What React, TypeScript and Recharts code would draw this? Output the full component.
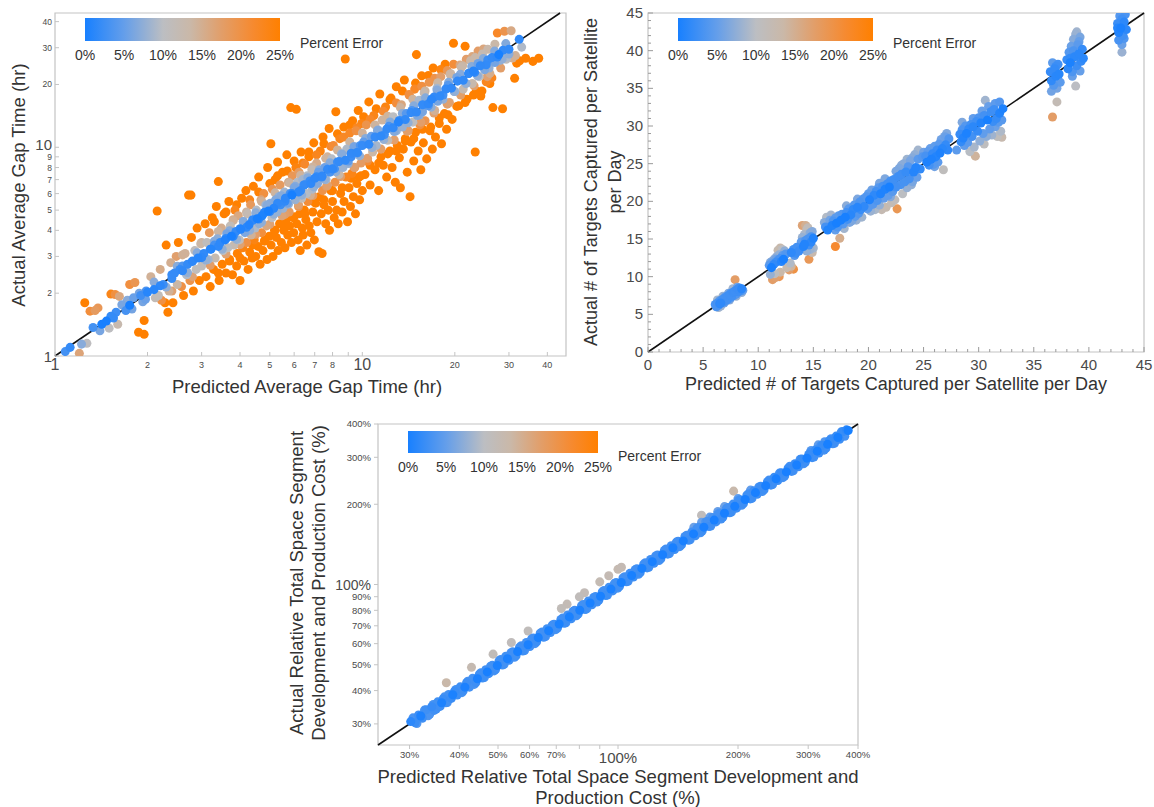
import React from "react";
import {
  ScatterChart,
  Scatter,
  XAxis,
  YAxis,
  ZAxis,
  Cell,
  ReferenceLine,
  ReferenceArea,
} from "recharts";

type Pt = [number, number];

// ---- Panel A: average gap time (hr), [predicted, actual] ----
const gapCore: Pt[] = [
  [2.0, 2.02], [2.2, 2.17], [2.4, 2.45], [2.6, 2.56], [2.8, 2.84], [3.0, 2.96], [3.2, 3.25], [3.4, 3.35],
  [3.6, 3.66], [3.8, 3.75], [4.0, 4.07], [4.2, 4.14], [4.4, 4.47], [4.6, 4.53], [4.8, 4.88], [5.0, 4.92],
  [5.3, 5.39], [5.6, 5.51], [5.9, 6.0], [6.2, 6.11], [6.5, 6.62], [6.8, 6.7], [7.1, 7.23], [7.4, 7.29],
  [7.7, 7.84], [8.0, 7.88], [8.4, 8.55], [8.8, 8.66], [9.2, 9.36], [9.6, 9.45], [10.0, 10.2], [10.5, 10.33],
  [11.0, 11.2], [11.5, 11.32], [12.0, 12.22], [12.6, 12.4], [13.2, 13.45], [13.8, 13.58], [14.4, 14.66],
  [15.0, 14.76], [15.7, 15.98], [16.4, 16.15], [17.1, 17.4], [17.9, 17.62], [18.7, 19.03], [19.5, 19.2],
  [20.4, 20.75], [21.3, 20.96], [22.2, 22.56], [23.2, 22.85], [24.2, 24.6], [25.3, 24.86], [26.4, 26.9],
  [27.5, 27.05], [28.7, 29.2], [30.0, 29.5],
  [2.1, 2.26], [2.3, 2.14], [2.5, 2.69], [2.7, 2.51], [2.9, 3.12], [3.1, 2.88], [3.3, 3.55], [3.5, 3.25],
  [3.7, 3.98], [3.9, 3.62], [4.1, 4.41], [4.3, 4.0], [4.5, 4.85], [4.7, 4.37], [4.9, 5.27], [5.15, 4.78],
  [5.45, 5.86], [5.75, 5.34], [6.05, 6.5], [6.35, 5.9], [6.65, 7.15], [6.95, 6.46], [7.25, 7.8], [7.55, 7.01],
  [7.85, 8.44], [8.2, 7.62], [8.6, 9.25], [9.0, 8.36], [9.4, 10.1], [9.8, 9.1], [10.25, 11.02], [10.75, 9.98],
  [11.25, 12.1], [11.75, 10.9], [12.3, 13.22], [12.9, 11.98], [13.5, 14.52], [14.1, 13.1], [14.7, 15.8],
  [15.35, 14.27], [16.05, 17.25], [16.75, 15.57], [17.5, 18.8], [18.3, 17.0], [19.1, 20.5], [19.9, 18.5],
  [20.85, 22.4], [21.75, 20.2], [22.7, 24.4], [23.7, 22.0], [24.75, 26.6], [25.85, 24.0], [26.95, 28.9],
  [28.1, 26.1], [29.3, 31.4],
];

const gapBands: Pt[] = [
  // upper, strongly over
  [3.3, 4.4], [3.6, 4.9], [3.9, 5.3], [4.3, 5.6], [4.6, 6.1], [5.0, 6.7], [5.3, 7.3], [5.7, 7.7], [6.0, 8.6],
  [6.4, 8.4], [6.7, 9.5], [7.1, 9.2], [7.5, 10.4], [7.9, 10.1], [8.3, 11.6], [8.7, 11.2], [9.1, 12.8], [9.6, 12.4],
  [10.1, 14.0], [10.6, 13.6], [11.1, 15.3], [11.7, 14.9], [12.3, 16.9], [12.9, 16.3], [13.5, 18.6], [14.2, 17.9],
  [14.9, 20.3], [15.6, 19.6], [16.4, 22.1], [17.2, 21.4], [18.0, 23.6], [18.9, 23.3], [19.8, 25.0], [20.8, 24.8],
  [21.8, 26.4], [22.8, 27.2], [23.8, 28.9], [24.8, 29.6],
  // upper, mildly over
  [2.6, 3.05], [3.0, 3.5], [3.4, 3.95], [3.8, 4.45], [4.2, 4.9], [4.7, 5.5], [5.2, 6.05], [5.8, 6.75], [6.3, 7.35],
  [6.9, 8.05], [7.6, 8.85], [8.3, 9.7], [9.1, 10.6], [10.0, 11.7], [11.0, 12.8], [12.1, 14.1], [13.3, 15.5],
  [14.6, 17.0], [16.0, 18.6], [17.6, 20.4], [19.3, 22.4], [21.2, 24.6], [23.3, 26.9], [25.6, 29.5], [27.0, 31.2],
  // lower, strongly under
  [3.4, 2.5], [3.7, 2.85], [4.0, 2.95], [4.4, 3.4], [4.8, 3.55], [5.2, 4.0], [5.6, 4.15], [6.0, 4.65], [6.5, 4.8],
  [7.0, 5.45], [7.5, 5.6], [8.0, 6.2], [8.6, 6.4], [9.2, 7.1], [9.9, 7.3], [10.6, 8.2], [11.3, 8.4], [12.1, 9.3],
  [12.9, 9.6], [13.8, 10.7], [14.7, 11.0], [15.7, 12.2], [16.7, 12.5], [17.8, 13.8], [19.0, 14.3], [20.3, 15.7],
  [21.6, 16.4], [23.0, 17.8], [24.5, 18.6], [26.0, 20.2],
  // lower, mildly under
  [2.4, 2.05], [2.8, 2.4], [3.2, 2.72], [3.6, 3.08], [4.0, 3.42], [4.5, 3.83], [5.0, 4.28], [5.6, 4.77], [6.2, 5.3],
  [6.9, 5.87], [7.7, 6.57], [8.5, 7.24], [9.4, 8.02], [10.4, 8.86], [11.5, 9.8], [12.7, 10.83], [14.0, 11.93],
  [15.5, 13.2], [17.1, 14.6], [18.9, 16.1], [20.9, 17.8], [23.1, 19.7], [25.5, 21.8],
];

const gapSpread: Pt[] = [
  [1.08, 1.05], [1.12, 1.1], [1.2, 1.03], [1.22, 1.14], [1.27, 1.15], [1.25, 1.8], [1.3, 1.64], [1.35, 1.65],
  [1.38, 1.7], [1.33, 1.37], [1.4, 1.32], [1.42, 1.42], [1.47, 1.47], [1.5, 1.36], [1.52, 1.55], [1.55, 1.52],
  [1.58, 1.62], [1.52, 1.98], [1.57, 1.97], [1.62, 1.93], [1.65, 1.76], [1.6, 1.42], [1.7, 1.65], [1.72, 1.85],
  [1.75, 1.75], [1.78, 1.68], [1.8, 1.9], [1.75, 2.2], [1.82, 2.25], [1.87, 1.3], [1.95, 1.27], [1.95, 1.48],
  [1.9, 1.95], [1.93, 1.82], [1.98, 2.05], [1.97, 1.87], [1.88, 2.0],
  [2.05, 2.4], [2.1, 2.08], [2.12, 1.9], [2.15, 4.95], [2.17, 1.95], [2.2, 2.6], [2.22, 1.85], [2.25, 2.2],
  [2.28, 1.8], [2.3, 3.4], [2.33, 1.62], [2.35, 2.05], [2.38, 2.8], [2.4, 2.35], [2.42, 1.8], [2.45, 2.5],
  [2.48, 3.0], [2.5, 2.2], [2.52, 3.5], [2.55, 2.6], [2.58, 2.15], [2.6, 2.7], [2.62, 1.95], [2.65, 3.1],
  [2.68, 2.45], [2.7, 2.75], [2.72, 5.9], [2.77, 5.9], [2.75, 2.3], [2.78, 3.7], [2.8, 2.85], [2.82, 2.05],
  [2.85, 3.2], [2.88, 2.6], [2.9, 4.1], [2.92, 2.95], [2.95, 2.3], [2.98, 3.45], [3.0, 2.7],
  [3.05, 3.1], [3.08, 4.3], [3.1, 2.4], [3.12, 3.5], [3.15, 2.9], [3.18, 3.9], [3.2, 2.15], [3.22, 3.25],
  [3.25, 4.6], [3.28, 2.6], [3.3, 3.4], [3.32, 2.95], [3.35, 5.2], [3.38, 3.65], [3.4, 6.85], [3.42, 2.3],
  [3.45, 3.5], [3.48, 4.1], [3.5, 2.75], [3.52, 3.2], [3.55, 4.8], [3.58, 3.6], [3.6, 2.5], [3.62, 3.85],
  [3.65, 3.3], [3.68, 5.5], [3.7, 2.9], [3.72, 4.2], [3.75, 3.75], [3.78, 2.45], [3.8, 4.5], [3.82, 3.4],
  [3.85, 5.0], [3.88, 3.95], [3.9, 2.7], [3.92, 3.1], [3.95, 4.7], [3.98, 3.6], [4.0, 2.3], [4.02, 4.05],
  [4.05, 5.7], [4.08, 3.3], [4.1, 4.4], [4.12, 2.85], [4.15, 3.9], [4.18, 6.2], [4.2, 3.5], [4.22, 4.8],
  [4.25, 2.6], [4.28, 4.25], [4.3, 3.15], [4.33, 5.3], [4.35, 3.8], [4.38, 2.95], [4.4, 4.5], [4.42, 6.5],
  [4.45, 3.6], [4.48, 4.1], [4.5, 3.0], [4.52, 5.0], [4.55, 4.55], [4.58, 3.35], [4.6, 7.2], [4.62, 4.3],
  [4.65, 2.75], [4.68, 5.6], [4.7, 3.9], [4.72, 4.7], [4.75, 3.2], [4.78, 6.0], [4.8, 4.85], [4.82, 3.6],
  [4.85, 5.3], [4.88, 4.2], [4.9, 2.9], [4.92, 8.0], [4.95, 4.95], [4.98, 3.75],
  [5.02, 5.4], [5.04, 10.4], [5.05, 3.4], [5.08, 4.6], [5.1, 6.3], [5.12, 3.0], [5.15, 5.1], [5.18, 4.0],
  [5.2, 7.0], [5.22, 5.6], [5.25, 3.7], [5.28, 4.9], [5.3, 8.5], [5.32, 3.2], [5.35, 5.8], [5.38, 4.3],
  [5.4, 6.6], [5.42, 5.3], [5.45, 3.5], [5.48, 4.7], [5.5, 7.6], [5.52, 5.1], [5.55, 4.0], [5.58, 6.1],
  [5.6, 3.3], [5.62, 5.7], [5.65, 4.5], [5.68, 9.2], [5.7, 5.4], [5.72, 3.8], [5.75, 6.8], [5.78, 4.9],
  [5.8, 4.2], [5.82, 6.0], [5.85, 15.5], [5.88, 3.5], [5.9, 5.9], [5.92, 7.3], [5.95, 4.6], [5.98, 3.9],
  [6.0, 6.4], [6.05, 5.6], [6.08, 8.0], [6.1, 15.2], [6.12, 4.3], [6.15, 6.8], [6.18, 3.6], [6.2, 5.2],
  [6.22, 7.6], [6.25, 4.8], [6.28, 3.2], [6.3, 6.2], [6.32, 9.5], [6.35, 5.7], [6.38, 4.1], [6.4, 7.0],
  [6.42, 3.8], [6.45, 6.6], [6.48, 5.0], [6.5, 8.3], [6.55, 4.5], [6.58, 6.0], [6.6, 3.4], [6.62, 7.3],
  [6.65, 5.5], [6.7, 9.0], [6.72, 4.2], [6.75, 6.9], [6.78, 5.9], [6.8, 3.9], [6.85, 7.8], [6.88, 6.3],
  [6.9, 4.9], [6.95, 10.5], [6.98, 3.6], [7.0, 7.1], [7.05, 5.4], [7.1, 8.4], [7.12, 4.4], [7.15, 6.7],
  [7.2, 7.6], [7.22, 3.16], [7.25, 5.8], [7.3, 9.6], [7.35, 4.8], [7.38, 7.2], [7.4, 3.1], [7.42, 6.2],
  [7.45, 11.2], [7.5, 5.3], [7.55, 8.0], [7.6, 4.3], [7.62, 7.0], [7.65, 6.5], [7.7, 9.0], [7.75, 5.0],
  [7.8, 12.3], [7.82, 4.0], [7.85, 7.6], [7.9, 6.2], [7.95, 8.8], [8.0, 5.5], [8.05, 10.2], [8.1, 4.6],
  [8.12, 7.9], [8.15, 6.8], [8.2, 14.8], [8.25, 5.0], [8.3, 8.5], [8.35, 4.3], [8.4, 7.4], [8.45, 11.0],
  [8.5, 6.0], [8.55, 9.3], [8.6, 4.9], [8.65, 8.0], [8.7, 12.5], [8.72, 5.5], [8.8, 26.5], [8.85, 7.2],
  [8.9, 9.8], [8.95, 4.4], [9.0, 8.6], [9.05, 6.4], [9.1, 11.7], [9.15, 5.2], [9.2, 9.0], [9.25, 7.5],
  [9.3, 13.4], [9.35, 5.8], [9.4, 10.0], [9.45, 8.0], [9.5, 4.8], [9.55, 12.0], [9.6, 6.7], [9.65, 9.4],
  [9.7, 15.0], [9.75, 7.2], [9.8, 5.6], [9.85, 10.2], [9.9, 8.4], [9.95, 13.0], [10.0, 6.2],
  [10.1, 10.6], [10.2, 7.4], [10.3, 12.8], [10.4, 8.6], [10.5, 16.5], [10.6, 6.6], [10.7, 11.3], [10.8, 9.5],
  [10.9, 14.2], [11.0, 7.8], [11.1, 10.2], [11.2, 12.0], [11.3, 6.2], [11.4, 18.0], [11.5, 9.0], [11.6, 13.5],
  [11.7, 8.2], [11.8, 11.5], [11.9, 15.6], [12.0, 7.2], [12.1, 10.8], [12.2, 12.6], [12.3, 9.6], [12.4, 17.2],
  [12.5, 8.0], [12.6, 14.0], [12.7, 11.9], [12.8, 6.8], [12.9, 19.5], [13.0, 10.2], [13.1, 13.2], [13.2, 8.9],
  [13.3, 6.4], [13.4, 16.0], [13.5, 12.5], [13.6, 9.8], [13.7, 21.0], [13.8, 11.0], [13.9, 14.5], [14.0, 7.6],
  [14.1, 12.0], [14.2, 17.8], [14.3, 5.8], [14.4, 10.6], [14.5, 15.0], [14.6, 13.2], [14.7, 8.6], [14.8, 19.0],
  [14.9, 11.8], [15.0, 27.8], [15.1, 14.2], [15.2, 9.6], [15.3, 16.8], [15.4, 12.8], [15.5, 7.8], [15.6, 22.0],
  [15.7, 14.8], [15.8, 10.5], [15.9, 18.2], [16.0, 13.4], [16.2, 8.8], [16.4, 15.8], [16.5, 20.5], [16.6, 12.0],
  [16.8, 17.0], [16.9, 9.8], [17.0, 24.0], [17.2, 15.0], [17.3, 11.2], [17.5, 19.2], [17.6, 16.6], [17.8, 13.0],
  [18.0, 21.8], [18.1, 10.4], [18.3, 17.8], [18.5, 14.5], [18.6, 25.0], [18.8, 12.2], [19.0, 19.8], [19.2, 16.4],
  [19.4, 22.5], [19.6, 13.6], [19.8, 31.5], [20.0, 18.5],
  [20.3, 21.6], [20.6, 15.8], [21.0, 24.2], [21.3, 19.0], [21.6, 30.5], [21.9, 17.0], [22.2, 22.6], [22.5, 26.0],
  [22.8, 20.2], [23.0, 23.2], [23.3, 9.5], [23.5, 18.6], [23.8, 25.2], [24.0, 21.8], [24.3, 17.6], [24.6, 28.0],
  [25.0, 23.5], [25.3, 20.6], [25.6, 26.2], [26.0, 22.6], [26.4, 21.5], [26.6, 15.5], [27.0, 25.5], [27.5, 35.3],
  [27.8, 27.8], [28.2, 24.0], [28.6, 15.3], [29.0, 36.0], [29.4, 26.4], [30.0, 28.0], [30.5, 36.2], [31.3, 21.4],
  [31.8, 25.3], [32.4, 32.9], [33.0, 30.2], [34.0, 26.7], [35.9, 25.8], [37.5, 26.7],
  [28.5, 26.5], [29.5, 27.0], [30.8, 26.8], [31.5, 27.5], [32.5, 26.0],
];

const gapTicks = [1, 2, 3, 4, 5, 6, 7, 8, 9, 10, 20, 30, 40];
const gapXLabels = [1, 2, 3, 4, 5, 6, 7, 8, 10, 20, 30, 40];
const gapYLabels = [1, 2, 3, 4, 5, 6, 7, 8, 9, 10, 20, 30, 40];
const gapBigLabels = [1, 10];

// ---- Panel B: targets captured per satellite per day, [predicted, actual] ----
const targetPoints: Pt[] = [
  [6.1, 6.3], [6.2, 6.0], [6.3, 6.5], [6.4, 6.2], [6.5, 6.8], [6.5, 6.4], [6.6, 6.1], [6.7, 6.9], [6.8, 6.6],
  [6.9, 7.1], [7.0, 6.7], [7.0, 7.3], [7.1, 6.9], [7.2, 7.4], [7.3, 7.0], [7.4, 7.6], [7.5, 7.2], [7.5, 7.8],
  [7.6, 7.4], [7.7, 7.9], [7.8, 7.5], [7.9, 9.6], [7.9, 8.1], [8.0, 7.7], [8.1, 8.3], [8.2, 8.0], [8.3, 8.5],
  [8.4, 8.1], [8.5, 8.4], [8.6, 8.2], [6.6, 6.5], [7.2, 7.0], [7.8, 8.0], [8.2, 8.4],
  [6.3, 6.9], [6.8, 7.4], [7.3, 7.8], [7.7, 8.4], [8.1, 8.6], [6.4, 5.9], [6.9, 6.5], [7.4, 6.9], [8.0, 7.4], [8.5, 7.9],
  [11.0, 11.5], [11.1, 11.9], [11.2, 11.2], [11.3, 12.1], [11.4, 11.6], [11.5, 12.4], [11.6, 11.9], [11.7, 12.7],
  [11.8, 12.2], [11.9, 12.9], [12.0, 12.4], [12.1, 12.0], [12.2, 12.8], [12.3, 12.3], [11.2, 11.8], [11.6, 12.3],
  [11.8, 13.5], [12.0, 13.8], [12.2, 13.6], [12.4, 13.4], [12.5, 13.0],
  [11.3, 9.6], [11.6, 9.9], [11.9, 10.0], [12.0, 10.6], [11.5, 10.4], [11.1, 10.3],
  [12.6, 11.2], [12.8, 10.9], [13.0, 11.4], [13.2, 11.0], [12.9, 11.8],
  [13.0, 13.2], [13.2, 13.6], [13.4, 13.1], [13.5, 13.9], [13.7, 13.4], [13.3, 12.8],
  [13.9, 14.6], [14.0, 15.2], [14.1, 14.0], [14.2, 15.6], [14.3, 14.8], [14.4, 16.2], [14.5, 15.0], [14.6, 14.2],
  [14.7, 15.8], [14.8, 14.6], [14.9, 16.0], [15.0, 15.1], [14.2, 14.3], [14.5, 16.4], [14.8, 15.3],
  [14.0, 16.8], [14.3, 16.8], [14.5, 16.5], [14.9, 13.2], [14.7, 13.6], [15.0, 13.8], [14.4, 13.4], [14.6, 12.3],
  [16.0, 17.2], [16.1, 16.6], [16.2, 17.9], [16.3, 16.2], [16.5, 17.5], [16.6, 18.2], [16.7, 16.8], [16.8, 17.4],
  [17.0, 14.0], [17.4, 15.1], [17.0, 17.8], [17.1, 17.1], [17.2, 16.6], [17.3, 18.1],
  [17.5, 17.5], [17.6, 18.3], [17.7, 17.0], [17.8, 16.4], [17.9, 17.9],
  [18.0, 18.5], [18.1, 17.6], [18.2, 19.0], [18.3, 17.2], [18.4, 18.2], [18.5, 17.4],
  [18.6, 18.9], [18.7, 19.5], [18.8, 18.0], [18.9, 17.5], [19.0, 19.2],
  [19.1, 18.4], [19.2, 19.9], [19.3, 18.9], [19.4, 17.9], [19.5, 20.3], [19.6, 19.3],
  [19.8, 20.6], [19.9, 19.0], [20.0, 21.0], [20.1, 20.2], [20.2, 18.7], [20.3, 21.5], [20.4, 19.6], [20.5, 20.8],
  [20.6, 18.9], [20.7, 21.3], [20.8, 20.1], [20.9, 21.8], [21.0, 19.5], [21.1, 21.0], [21.2, 18.9], [21.3, 22.0],
  [21.4, 20.4], [21.5, 21.6], [21.6, 19.2], [21.7, 22.3], [21.8, 20.8], [21.9, 21.9], [22.0, 22.7], [22.1, 19.8],
  [22.2, 21.3], [22.3, 22.9], [22.4, 20.2], [22.5, 21.9], [22.6, 19.0], [22.7, 23.3],
  [22.8, 24.4], [22.9, 22.2], [23.0, 23.6], [23.1, 21.0], [23.2, 25.0], [23.3, 22.6], [23.4, 23.9], [23.5, 21.8],
  [23.6, 24.6], [23.7, 23.0], [23.8, 25.4], [23.9, 22.2], [24.0, 25.8], [24.1, 23.9], [24.2, 26.2], [24.3, 24.5],
  [24.4, 23.2], [24.5, 25.6], [24.7, 24.3], [24.9, 25.9],
  [17.0, 16.2], [18.0, 19.4], [19.0, 20.3], [20.0, 19.2], [21.0, 22.4], [22.0, 20.6], [23.0, 24.8], [24.0, 22.6],
  [25.0, 26.5], [26.0, 24.6], [27.0, 28.5], [28.0, 26.8], [28.5, 30.5], [29.5, 31.0], [30.5, 27.6], [31.5, 33.0],
  [24.5, 26.8], [23.5, 25.6], [22.5, 24.0], [21.5, 23.0],
  [25.2, 26.0], [25.3, 25.2], [25.4, 26.6], [25.5, 24.8], [25.6, 27.0], [25.7, 25.6], [25.8, 26.3], [25.9, 24.9],
  [26.0, 27.3], [26.1, 25.9], [26.2, 26.8], [26.3, 25.2], [26.4, 27.6], [26.5, 26.4], [26.6, 28.2], [26.7, 27.0],
  [26.8, 24.2], [26.9, 28.6], [27.0, 27.5], [27.1, 29.0], [27.2, 26.8], [27.3, 28.3],
  [28.3, 28.9], [28.4, 27.9], [28.5, 29.5], [28.6, 28.4], [28.7, 27.4], [28.8, 30.0], [28.9, 29.0], [29.0, 27.8],
  [29.1, 29.6], [29.2, 26.6], [29.3, 30.2], [29.4, 28.6], [29.5, 29.9], [29.6, 27.2], [29.7, 26.0],
  [29.8, 30.6], [29.9, 29.3], [30.0, 31.1], [30.1, 28.0], [30.2, 30.4], [30.3, 32.0], [30.4, 29.0], [30.5, 31.4],
  [30.6, 33.4], [30.7, 28.6], [30.8, 30.8], [30.9, 32.6], [31.0, 29.6], [31.1, 31.9], [31.2, 28.8], [31.3, 30.6],
  [31.4, 32.2], [31.5, 29.9], [31.6, 31.0], [31.7, 28.6], [31.8, 30.5], [31.9, 31.7], [32.0, 29.3], [32.1, 30.8],
  [32.2, 32.3], [31.9, 33.2], [32.1, 28.5],
  [36.5, 37.2], [36.6, 36.0], [36.7, 38.4], [36.8, 35.4], [36.9, 37.6], [37.0, 36.6], [37.1, 35.0], [37.2, 38.2],
  [37.3, 36.9], [36.6, 34.6], [37.0, 37.9], [37.4, 35.8], [37.1, 33.2], [36.7, 31.2],
  [38.0, 38.8], [38.1, 37.6], [38.2, 39.8], [38.3, 38.4], [38.4, 40.6], [38.5, 37.2], [38.6, 41.5], [38.7, 39.2],
  [38.8, 42.2], [38.9, 38.0], [39.0, 40.8], [39.1, 39.6], [39.2, 41.8], [39.3, 38.6], [39.4, 40.2], [39.5, 39.0],
  [38.5, 36.6], [38.8, 35.3], [39.2, 37.3], [38.9, 42.5], [39.1, 41.2], [38.3, 39.0], [38.6, 40.0],
  [42.6, 43.6], [42.7, 42.4], [42.8, 44.6], [42.9, 43.0], [43.0, 44.2], [43.1, 42.0], [43.2, 43.8], [43.3, 44.8],
  [43.4, 42.8], [42.7, 41.4], [43.0, 40.8], [43.0, 39.8], [42.9, 44.9], [43.2, 41.6], [42.6, 43.0],
];

const targetTicks = [
  0, 1, 2, 3, 4, 5, 6, 7, 8, 9, 10, 11, 12, 13, 14, 15, 16, 17, 18, 19, 20, 21, 22,
  23, 24, 25, 26, 27, 28, 29, 30, 31, 32, 33, 34, 35, 36, 37, 38, 39, 40, 41, 42, 43, 44, 45,
];
const targetLabels = [0, 5, 10, 15, 20, 25, 30, 35, 40, 45];

// ---- Panel C: relative space segment cost (%), [predicted, actual] ----
const costBand: Pt[] = [
  [30.2, 30.6], [31.0, 30.3], [31.6, 32.4], [32.3, 31.5], [33.0, 33.9], [33.4, 32.2], [34.1, 34.8], [34.6, 33.7],
  [35.3, 36.3], [35.8, 34.9], [36.4, 37.2], [37.0, 36.0], [37.6, 38.7], [38.2, 37.4], [38.9, 39.8], [39.5, 38.5],
  [40.2, 41.3], [40.9, 39.9], [41.7, 42.8], [42.4, 41.2], [43.2, 44.5], [44.0, 42.9], [44.9, 46.1], [45.7, 44.6],
  [46.6, 47.9], [47.4, 46.3], [48.4, 49.8], [49.3, 48.0], [50.3, 51.7], [51.3, 49.9], [52.3, 53.8], [53.3, 52.0],
  [54.4, 55.9], [55.5, 54.0], [56.6, 58.1], [57.7, 56.3], [58.9, 60.6], [60.1, 58.5], [61.3, 63.0], [62.5, 61.0],
  [63.8, 65.6], [65.1, 63.4], [66.4, 68.3], [67.7, 66.0], [69.1, 71.0], [70.5, 68.7], [71.9, 73.9], [73.3, 71.5],
  [74.8, 76.9], [76.3, 74.4], [77.9, 80.1], [79.4, 77.4], [81.0, 83.3], [82.7, 80.6], [84.3, 86.7], [86.0, 83.9],
  [87.8, 90.2], [89.5, 87.3], [91.3, 93.8], [93.2, 90.9], [95.0, 97.7], [97.0, 94.6], [98.9, 101.7], [100.9, 98.4],
  [102.9, 105.8], [105.0, 102.4], [107.1, 110.1], [109.3, 106.6], [111.5, 114.6], [113.7, 110.9], [116.0, 119.2],
  [118.3, 115.4], [120.7, 124.1], [123.1, 120.1], [125.6, 129.1], [128.1, 124.9], [130.7, 134.3], [133.3, 130.0],
  [136.0, 139.8], [138.7, 135.3], [141.5, 145.4], [144.3, 140.8], [147.2, 151.3], [150.2, 146.5], [153.2, 157.5],
  [156.3, 152.4], [159.4, 164.0], [162.6, 158.6], [165.9, 171.5], [169.2, 165.0], [172.6, 178.5], [176.1, 171.7],
  [179.6, 185.4], [183.2, 178.7], [186.9, 192.6], [190.6, 185.9], [194.4, 200.3], [198.3, 193.4], [202.3, 207.8],
  [206.4, 201.3], [210.5, 216.2], [214.7, 209.4], [219.0, 224.6], [223.4, 217.9], [227.9, 233.5], [232.5, 226.7],
  [237.1, 242.8], [241.9, 235.9], [246.7, 252.4], [251.7, 245.4], [256.7, 262.5], [261.9, 255.4], [267.1, 273.0],
  [272.5, 265.7], [277.9, 284.0], [283.5, 276.4], [289.2, 295.5], [295.0, 287.6], [300.9, 307.5], [306.9, 299.2],
  [313.1, 319.9], [319.3, 311.3], [325.7, 332.8], [332.3, 324.0], [338.9, 346.3], [345.7, 337.0], [352.7, 360.4],
  [359.7, 350.7], [366.9, 374.9], [374.3, 380.2],
  [155, 164], [162, 171], [170, 179], [178, 188], [185, 196], [200, 210], [215, 226], [305, 318], [318, 334], [330, 343],
  [30.6, 31.6], [31.3, 30.1], [32.0, 32.1], [32.7, 33.8], [33.7, 32.6], [34.4, 35.5], [35.0, 34.1], [36.1, 36.0],
  [36.7, 37.9], [37.3, 36.1], [38.5, 38.6], [39.2, 40.4], [40.6, 39.3], [41.3, 41.2], [42.0, 43.4], [43.6, 42.2],
  [44.4, 44.3], [45.3, 46.7], [46.2, 44.8], [47.0, 47.0], [47.9, 49.4], [48.9, 47.4], [49.8, 49.7], [50.8, 52.3],
  [51.8, 50.2], [52.8, 52.7], [53.9, 55.5], [55.0, 53.3], [56.0, 56.0], [57.2, 58.9], [58.3, 56.5], [59.5, 59.4],
  [60.7, 62.5], [61.9, 60.0], [63.1, 63.2], [64.5, 66.4], [65.8, 63.8], [67.0, 67.1], [68.4, 70.4], [69.8, 67.7],
  [71.2, 71.1], [72.6, 74.8], [74.0, 71.8], [75.5, 75.6], [77.1, 79.3], [78.6, 76.3], [80.2, 80.1], [81.8, 84.2],
  [83.5, 81.0], [85.1, 85.2], [86.9, 89.4], [88.6, 86.0], [90.4, 90.3], [92.2, 94.9], [94.1, 91.3], [96.0, 96.1],
  [97.9, 100.8], [99.9, 96.9], [101.9, 101.8], [103.9, 107.0], [106.0, 102.9], [108.2, 108.1], [110.4, 113.6],
  [112.6, 109.3], [114.8, 114.9], [117.1, 120.6], [119.5, 116.0], [121.9, 121.8], [124.3, 128.0], [126.8, 123.1],
  [129.4, 129.3], [132.0, 135.9], [134.6, 130.6], [137.3, 137.4], [140.1, 144.2], [142.9, 138.7], [145.8, 145.7],
  [148.7, 153.1], [151.7, 147.2], [154.7, 154.8], [157.8, 162.5], [161.0, 156.3], [164.2, 164.1], [167.5, 172.5],
  [170.9, 165.8], [174.3, 174.4], [177.8, 183.1], [181.4, 176.0], [185.0, 185.1], [188.7, 194.3], [192.5, 186.8],
  [196.3, 196.4], [200.3, 206.2], [204.3, 198.2], [208.4, 208.3], [212.6, 218.9], [216.8, 210.4], [221.2, 221.1],
  [225.6, 232.3], [230.1, 223.3], [234.7, 234.8], [239.4, 246.5], [244.2, 237.0], [249.2, 249.1], [254.2, 261.7],
  [259.3, 251.6], [264.5, 264.4], [269.8, 277.8], [275.2, 267.1], [280.7, 280.8], [286.3, 294.8], [292.1, 283.5],
  [297.9, 297.8], [303.9, 312.9], [310.0, 300.8], [316.2, 316.3], [322.5, 331.9], [329.0, 319.2], [335.6, 335.5],
  [342.3, 352.3], [349.2, 338.8], [356.2, 356.1], [363.3, 373.7], [370.6, 359.6], [378.0, 378.1],
];

const costOutliers: Pt[] = [
  [37.1, 42.8], [42.9, 48.9], [48.6, 54.8], [54.0, 60.6], [59.5, 66.9], [72.1, 81.3], [74.5, 84.4], [80.0, 89.9],
  [82.4, 93.1], [90.0, 102.3], [94.8, 107.8], [100, 114], [102, 116], [162, 182], [195, 224],
];

const costTicks = [30, 40, 50, 60, 70, 80, 90, 100, 200, 300, 400];
const costXLabels = [30, 40, 50, 60, 70, 100, 200, 300, 400];
const costYLabels = [30, 40, 50, 60, 70, 80, 90, 100, 200, 300, 400];

const legendLabels = ["0%", "5%", "10%", "15%", "20%", "25%"];

// ---- styling ----
const FONT = "'Liberation Sans', Arial, Helvetica, sans-serif";
const FRAME = "#c4c4c4";
const TICK_TEXT = "#4a4a4a";
const TITLE = "#333";

const ERR_STOPS: [number, number[]][] = [
  [0, [24, 128, 255]],
  [5, [100, 158, 234]],
  [10, [188, 190, 194]],
  [13.5, [202, 184, 168]],
  [17.5, [226, 158, 105]],
  [21.5, [246, 138, 48]],
  [25, [255, 128, 0]],
];

function errorPct(pred: number, actual: number) {
  return Math.min(25, (Math.abs(actual - pred) / actual) * 100);
}

function errorColor(e: number) {
  for (let i = 1; i < ERR_STOPS.length; i++) {
    const [e0, c0] = ERR_STOPS[i - 1];
    const [e1, c1] = ERR_STOPS[i];
    if (e <= e1) {
      const t = (e - e0) / (e1 - e0);
      return `rgb(${c0.map((c, k) => Math.round(c + (c1[k] - c) * t)).join(",")})`;
    }
  }
  return "rgb(255,128,0)";
}

const legendGradient = `linear-gradient(to right, ${ERR_STOPS.map(
  ([e, c]) => `rgb(${c.join(",")}) ${e * 4}%`
).join(", ")})`;

function toRows(points: Pt[]) {
  return points
    .map(([p, a]) => ({ p, a, err: errorPct(p, a) }))
    .sort((m, n) => n.err - m.err)
    .map((r) => ({ ...r, color: errorColor(r.err) }));
}

const gapRows = toRows([...gapSpread, ...gapBands, ...gapCore]);
const targetRows = toRows(targetPoints);
const costRows = toRows([...costBand, ...costOutliers]);

// ---- ticks ----
function GapXTick({ x, y, payload }: any) {
  const v = payload.value;
  const big = gapBigLabels.includes(v);
  return (
    <g>
      <line x1={x} x2={x} y1={y} y2={y - 4} stroke={FRAME} />
      {gapXLabels.includes(v) && (
        <text x={x} y={y} dy={big ? 14 : 12} textAnchor="middle" fontSize={big ? 16 : 9} fill={TICK_TEXT}>
          {v}
        </text>
      )}
    </g>
  );
}

function GapYTick({ x, y, payload }: any) {
  const v = payload.value;
  const big = gapBigLabels.includes(v);
  const dy = v === 10 ? 3 : big ? 5.5 : 3;
  return (
    <g>
      <line x1={x} x2={x + 4} y1={y} y2={y} stroke={FRAME} />
      {gapYLabels.includes(v) && (
        <text x={x - 3} y={y} dy={dy} textAnchor="end" fontSize={big ? 15 : 8.5} fill={TICK_TEXT}>
          {v}
        </text>
      )}
    </g>
  );
}

function TargetXTick({ x, y, payload }: any) {
  const v = payload.value;
  const major = targetLabels.includes(v);
  return (
    <g>
      <line x1={x} x2={x} y1={y} y2={y - (major ? 5 : 3)} stroke="#9a9a9a" />
      {major && (
        <text x={x} y={y} dy={18} textAnchor="middle" fontSize={15} fill={TICK_TEXT}>
          {v}
        </text>
      )}
    </g>
  );
}

function TargetYTick({ x, y, payload }: any) {
  const v = payload.value;
  const major = targetLabels.includes(v);
  return (
    <g>
      <line x1={x} x2={x + (major ? 5 : 3)} y1={y} y2={y} stroke="#9a9a9a" />
      {major && (
        <text x={x - 5} y={y} dy={5} textAnchor="end" fontSize={15} fill={TICK_TEXT}>
          {v}
        </text>
      )}
    </g>
  );
}

function CostXTick({ x, y, payload }: any) {
  const v = payload.value;
  const big = v === 100;
  return (
    <g>
      <line x1={x} x2={x} y1={y} y2={y + 4} stroke={FRAME} />
      {costXLabels.includes(v) && (
        <text x={x} y={y} dy={big ? 18 : 13} textAnchor="middle" fontSize={big ? 15 : 9.5} fill={TICK_TEXT}>
          {v}%
        </text>
      )}
    </g>
  );
}

function CostYTick({ x, y, payload }: any) {
  const v = payload.value;
  const big = v === 100;
  return (
    <g>
      <line x1={x} x2={x - 4} y1={y} y2={y} stroke={FRAME} />
      {costYLabels.includes(v) && (
        <text x={x - 7} y={y} dy={big ? 5 : 3.3} textAnchor="end" fontSize={big ? 14 : 9.5} fill={TICK_TEXT}>
          {v}%
        </text>
      )}
    </g>
  );
}

// ---- overlays ----
function ErrorLegend({ x, y, w, h }: { x: number; y: number; w: number; h: number }) {
  return (
    <>
      <div style={{ position: "absolute", left: x, top: y, width: w, height: h, background: legendGradient }} />
      {legendLabels.map((t, i) => (
        <div
          key={t}
          style={{
            position: "absolute",
            left: x + (w * i) / (legendLabels.length - 1),
            top: y + h + 14,
            transform: "translate(-50%, -50%)",
            fontSize: 14,
            lineHeight: 1,
            color: TITLE,
            whiteSpace: "nowrap",
          }}
        >
          {t}
        </div>
      ))}
      <div
        style={{
          position: "absolute",
          left: x + w + 20,
          top: y + 25,
          transform: "translateY(-50%)",
          fontSize: 14,
          lineHeight: 1,
          color: TITLE,
          whiteSpace: "nowrap",
        }}
      >
        Percent Error
      </div>
    </>
  );
}

function Title({
  cx,
  cy,
  lines,
  size = 18,
  lineHeight = 21,
  vertical = false,
}: {
  cx: number;
  cy: number;
  lines: string[];
  size?: number;
  lineHeight?: number;
  vertical?: boolean;
}) {
  return (
    <div
      style={{
        position: "absolute",
        left: cx,
        top: cy,
        transform: `translate(-50%, -50%)${vertical ? " rotate(-90deg)" : ""}`,
        fontSize: size,
        lineHeight: `${lineHeight}px`,
        textAlign: "center",
        whiteSpace: "nowrap",
        color: TITLE,
      }}
    >
      {lines.map((l) => (
        <div key={l}>{l}</div>
      ))}
    </div>
  );
}

const axisCommon = {
  type: "number" as const,
  allowDataOverflow: true,
  interval: 0 as const,
  tickLine: false,
  axisLine: false,
  tickSize: 0,
  tickMargin: 0,
};

export default function App() {
  return (
    <div
      style={{
        position: "absolute",
        left: 0,
        top: 0,
        width: 1154,
        height: 807,
        background: "#fff",
        fontFamily: FONT,
      }}
    >
      {/* Panel A */}
      <div style={{ position: "absolute", left: 0, top: 0 }}>
        <ScatterChart width={580} height={400} margin={{ top: 13, right: 14, bottom: 0, left: 0 }}>
          <XAxis {...axisCommon} dataKey="p" scale="log" domain={[1, 46]} ticks={gapTicks} tick={GapXTick} height={44} />
          <YAxis {...axisCommon} dataKey="a" scale="log" domain={[1, 44]} ticks={gapTicks} tick={GapYTick} width={55} />
          <ZAxis range={[44, 44]} />
          <ReferenceArea x1={1} x2={46} y1={1} y2={44} fill="none" stroke={FRAME} strokeWidth={1.2} />
          <Scatter data={gapRows} isAnimationActive={false}>
            {gapRows.map((r, i) => (
              <Cell key={i} fill={r.color} />
            ))}
          </Scatter>
          <ReferenceLine segment={[{ x: 1, y: 1 }, { x: 44, y: 44 }]} stroke="#111" strokeWidth={1.6} />
        </ScatterChart>
      </div>

      {/* Panel B */}
      <div style={{ position: "absolute", left: 580, top: 0 }}>
        <ScatterChart width={574} height={400} margin={{ top: 13, right: 10, bottom: 0, left: 0 }}>
          <XAxis {...axisCommon} dataKey="p" domain={[0, 45]} ticks={targetTicks} tick={TargetXTick} height={48} />
          <YAxis {...axisCommon} dataKey="a" domain={[0, 45]} ticks={targetTicks} tick={TargetYTick} width={68} />
          <ZAxis range={[32, 32]} />
          <ReferenceArea x1={0} x2={45} y1={0} y2={45} fill="none" stroke={FRAME} strokeWidth={1.2} />
          <Scatter data={targetRows} isAnimationActive={false}>
            {targetRows.map((r, i) => (
              <Cell key={i} fill={r.color} />
            ))}
          </Scatter>
          <ReferenceLine segment={[{ x: 0, y: 0 }, { x: 45, y: 45 }]} stroke="#111" strokeWidth={1.6} />
        </ScatterChart>
      </div>

      {/* Panel C */}
      <div style={{ position: "absolute", left: 280, top: 400 }}>
        <ScatterChart width={600} height={407} margin={{ top: 24, right: 22, bottom: 0, left: 0 }}>
          <XAxis {...axisCommon} dataKey="p" scale="log" domain={[25, 400]} ticks={costTicks} tick={CostXTick} height={62} />
          <YAxis {...axisCommon} dataKey="a" scale="log" domain={[25, 400]} ticks={costTicks} tick={CostYTick} width={98} />
          <ZAxis range={[40, 40]} />
          <ReferenceArea x1={25} x2={400} y1={25} y2={400} fill="none" stroke={FRAME} strokeWidth={1.2} />
          <Scatter data={costRows} isAnimationActive={false}>
            {costRows.map((r, i) => (
              <Cell key={i} fill={r.color} />
            ))}
          </Scatter>
          <ReferenceLine segment={[{ x: 25, y: 25 }, { x: 400, y: 400 }]} stroke="#111" strokeWidth={1.6} />
        </ScatterChart>
      </div>

      <ErrorLegend x={85} y={18} w={195} h={23} />
      <ErrorLegend x={678} y={18} w={195} h={23} />
      <ErrorLegend x={408} y={431} w={190} h={22} />

      <Title cx={307} cy={386} lines={["Predicted Average Gap Time (hr)"]} size={18.5} />
      <Title cx={18} cy={185} lines={["Actual Average Gap Time (hr)"]} size={18.5} vertical />
      <Title cx={896} cy={384} lines={["Predicted # of Targets Captured per Satellite per Day"]} size={18} />
      <Title
        cx={603}
        cy={182}
        lines={["Actual # of Targets Captured per Satellite", "per Day"]}
        size={18}
        lineHeight={24}
        vertical
      />
      <Title
        cx={618}
        cy={787}
        lines={["Predicted Relative Total Space Segment Development and", "Production Cost (%)"]}
        size={18.5}
        lineHeight={21}
      />
      <Title
        cx={308}
        cy={583}
        lines={["Actual Relative Total Space Segment", "Development and Production Cost (%)"]}
        size={18.5}
        lineHeight={22}
        vertical
      />
    </div>
  );
}
